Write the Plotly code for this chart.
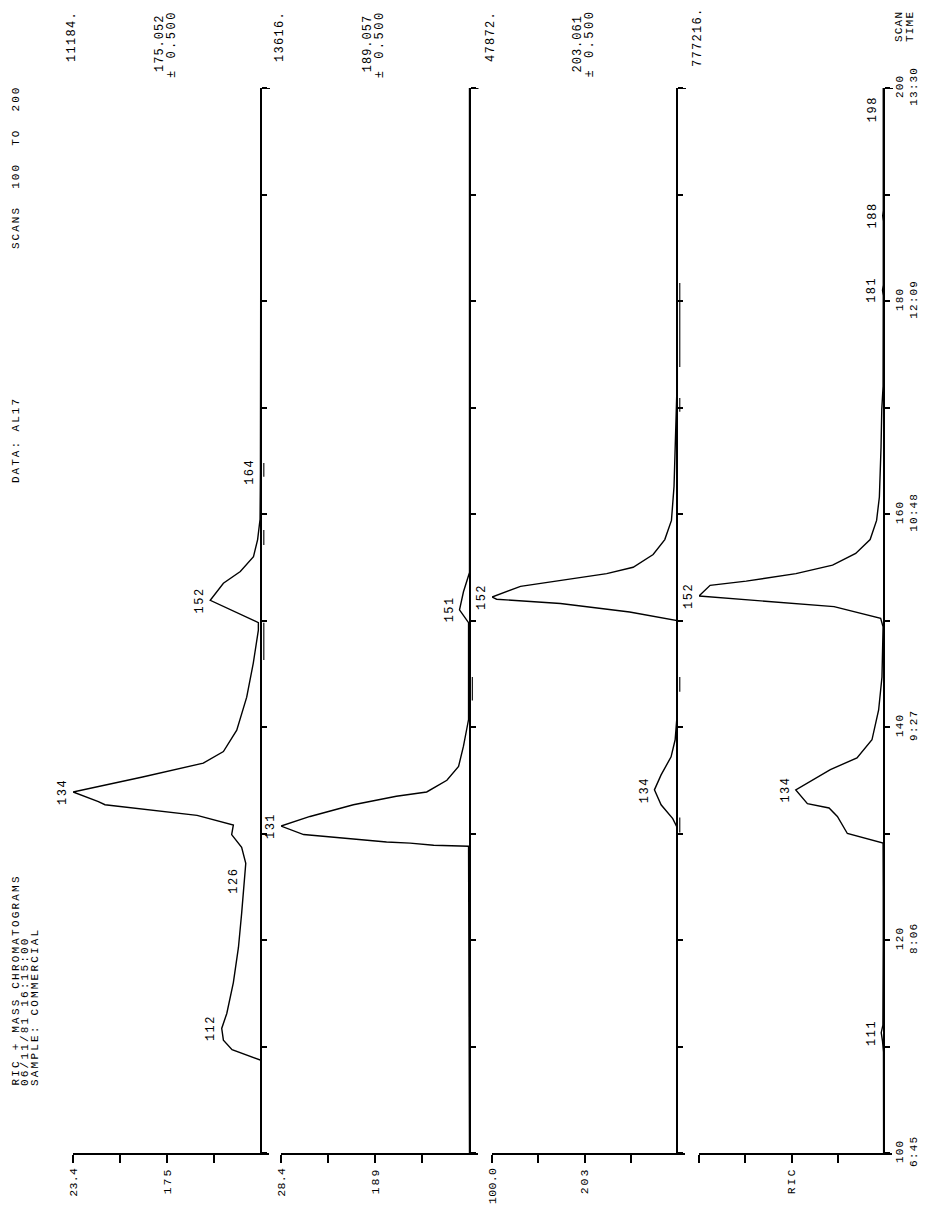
import numpy as np
import plotly.graph_objects as go

W, H = 927, 1209

# ---------------- data (scan number, relative intensity % of panel full scale) ----------------
p1_scan = [100, 108.7, 109.7, 110.6, 111.7, 113.1, 116, 119.3, 122.5, 125.6, 127.2, 128.7, 129.9,
           130.8, 131.7, 132.7, 133.0, 133.9, 135.3, 136.6, 137.7, 139.7, 142.8, 146, 149.1, 149.8,
           151.9, 153.5, 154.6, 156, 157.6, 159.5, 164, 200]
p1_int = [0, 0, 15.4, 20, 20.9, 18.2, 14.7, 12, 10.3, 8.9, 8.1, 10.3, 15.6,
          14.7, 34, 83, 86.5, 100, 63, 30.7, 20, 12.9, 7.6, 4.1, 1.4, 1.4,
          27, 20, 11, 4, 1.8, 0.5, 0.3, 0]

p2_scan = [100, 128.8, 128.9, 129.1, 129.2, 129.6, 129.9, 130.7, 131.6, 132.7, 133.5, 133.9, 135,
           136.3, 138.2, 140.7, 149.8, 151, 152.7, 154.5, 200]
p2_int = [0, 0.5, 19, 31.5, 44, 68.7, 88, 100, 84.6, 61.6, 38.8, 22.7, 12,
          5.8, 3.2, 0.5, 0.5, 5.3, 3.2, 0, 0]

p3_scan = [100, 130.6, 131.4, 132.7, 134.1, 135.5, 137.2, 138.8, 141, 150, 150.8, 151.6, 152,
           152.2, 153.2, 153.8, 154.4, 155, 156.2, 157.6, 159.4, 162.6, 165.7, 169.5, 172, 200]
p3_int = [0, 0, 2.3, 8.6, 12.2, 8.6, 3.2, 1, 0, 0, 25.6, 63, 97.5,
          100, 84.6, 61.4, 38, 23.7, 12.9, 6.6, 3, 1.6, 1, 0.5, 0, 0]

p4_scan = [100, 109.5, 110.5, 111.3, 112, 115, 120, 125, 129.1, 130, 131.6, 132.4, 132.8, 134.1,
           136, 137.1, 138.8, 141.6, 144.7, 149.4, 150.2, 151.3, 151.8, 152.3, 153.3, 153.7, 154.4,
           155.2, 156.3, 157.6, 159.4, 161.6, 166.3, 169.8, 172, 180.5, 181, 181.5, 187.5, 188,
           188.5, 197.5, 198, 198.5, 200]
p4_int = [0.2, 0.3, 0.8, 1.5, 0.6, 0.4, 0.4, 0.4, 0.5, 19.8, 25.2, 29.7, 41.4, 47.7,
          29, 14.6, 6.5, 2.9, 1.1, 0.5, 1.8, 27, 63, 100, 94, 74.5, 47.6,
          27.8, 15.3, 7.5, 4, 2.5, 1.6, 1.2, 0.5, 0.4, 0.8, 0.4, 0.4, 0.7,
          0.4, 0.4, 0.6, 0.4, 0.4]

# peak labels (scan numbers printed on the chart)
p1_peaks = [112, 126, 134, 152, 164]
p2_peaks = [131, 151]
p3_peaks = [134, 152]
p4_peaks = [111, 134, 152, 181, 188, 198]

# short marker strokes beside the baselines (scan start, scan end)
p1_marks = [(146.3, 149.8), (157.1, 158.5), (163.5, 164.8)]
p2_marks = [(142.5, 144.7)]
p3_marks = [(130.1, 131.5), (143.3, 144.7), (169.6, 170.9), (173.8, 181.7)]
p4_marks = []

# panel texts
full_scale_labels = ["23.4", "28.4", "100.0", ""]
mass_labels = ["175", "189", "203", "RIC"]
max_counts = ["11184.", "13616.", "47872.", "777216."]
mass_windows = ["175.052", "189.057", "203.061", None]
window_tol = "±\u00a00.500"

scan_ticks = [100, 110, 120, 130, 140, 150, 160, 170, 180, 190, 200]
scan_tick_lines = [("100", "6:45"), None, ("120", "8:06"), None, ("140", "9:27"), None,
                   ("160", "10:48"), None, ("180", "12:09"), None, ("200", "13:30")]

header_lines = ["RIC + MASS CHROMATOGRAMS", "06/11/81 16:15:00", "SAMPLE: COMMERCIAL"]
scans_text = "SCANS\u00a0\u00a0100\u00a0\u00a0TO\u00a0\u00a0200"
data_text = "DATA: AL17"

scans = [p1_scan, p2_scan, p3_scan, p4_scan]
ints = [p1_int, p2_int, p3_int, p4_int]
peaks = [p1_peaks, p2_peaks, p3_peaks, p4_peaks]
marks = [p1_marks, p2_marks, p3_marks, p4_marks]

# ---------------- layout geometry (pixels) ----------------
FULL_PX = [73, 281, 492, 699]       # full-scale side of each panel
BASE_PX = [261, 469.5, 677, 884]    # baseline side of each panel
EXT_PX = 8                          # axis line extension beyond the baseline
Y_BOTTOM_PX, Y_TOP_PX = 1153, 88
MARK_OFFSET = -1.5


def fx(p):
    return p / W


def fy(p):
    return 1 - p / H


FONT = dict(family="Liberation Mono, DejaVu Sans Mono, monospace", size=12, color="black")
HFONT = dict(FONT, size=11)


def ls(t, sp=1.8):
    return '<span style="letter-spacing:%.1fpx">%s</span>' % (sp, t)


fig = go.Figure()
layout = dict(width=W, height=H, margin=dict(l=0, r=0, t=0, b=0, autoexpand=False),
              paper_bgcolor="white", plot_bgcolor="white", showlegend=False)
annotations = []
shapes = []

for i in range(4):
    n = "" if i == 0 else str(i + 1)
    xa, ya = "x" + n, "y" + n
    fig.add_trace(go.Scatter(x=ints[i], y=scans[i], mode="lines",
                             line=dict(color="black", width=1.4),
                             xaxis=xa, yaxis=ya, hoverinfo="skip"))
    mx, my = [], []
    for a, b in marks[i]:
        mx += [MARK_OFFSET, MARK_OFFSET, None]
        my += [a, b, None]
    if mx:
        fig.add_trace(go.Scatter(x=mx, y=my, mode="lines", line=dict(color="black", width=1.1),
                                 xaxis=xa, yaxis=ya, hoverinfo="skip"))
    width = BASE_PX[i] - FULL_PX[i]
    xmin = -100 * EXT_PX / width
    layout["xaxis" + n] = dict(
        domain=[fx(FULL_PX[i]), fx(BASE_PX[i] + EXT_PX)], range=[100, xmin], anchor=ya,
        showgrid=False, zeroline=False, showline=True, linecolor="black", linewidth=2,
        ticks="outside", ticklen=8, tickwidth=2, tickcolor="black",
        tickvals=[100, 75, 50, 25],
        ticktext=[ls(full_scale_labels[i], 0.4), "", ls(mass_labels[i], 2.0), ""],
        tickangle=-90, tickfont=dict(FONT, size=11.5), fixedrange=True, automargin=False)
    ytext = []
    for t in scan_tick_lines:
        ytext.append(ls(t[0], 1.2) + "<br>" + ls(t[1], 1.2) if t else "")
    layout["yaxis" + n] = dict(
        domain=[fy(Y_BOTTOM_PX), fy(Y_TOP_PX)], range=[100, 200], anchor="free",
        position=fx(BASE_PX[i]), side="right", showline=True, linecolor="black", linewidth=2,
        ticks="outside", ticklen=5, tickwidth=2, tickcolor="black",
        tickvals=scan_ticks, ticktext=ytext, showticklabels=(i == 3),
        tickangle=-90, tickfont=HFONT, showgrid=False, zeroline=False,
        fixedrange=True, automargin=False)
    # top cap of the baseline
    shapes.append(dict(type="line", xref="paper", yref=ya, x0=fx(BASE_PX[i]),
                       x1=fx(BASE_PX[i] + 9), y0=200, y1=200,
                       line=dict(color="black", width=2)))
    # peak labels at local maxima
    s_arr = np.array(scans[i], dtype=float)
    v_arr = np.array(ints[i], dtype=float)
    for pk in peaks[i]:
        sel = np.where(np.abs(s_arr - pk) <= 1.5)[0]
        if len(sel):
            j = sel[np.argmax(v_arr[sel])]
            sx, sv = s_arr[j], v_arr[j]
        else:
            sx, sv = pk, float(np.interp(pk, s_arr, v_arr))
        annotations.append(dict(x=sv, y=sx, xref=xa, yref=ya, text=ls(str(pk), 1.5),
                                showarrow=False, textangle=-90, xanchor="right",
                                yanchor="middle", xshift=-1, font=FONT))
    # max counts at the top
    annotations.append(dict(x=fx(FULL_PX[i] - 1), y=fy(37), xref="paper", yref="paper",
                            text=ls(max_counts[i], 1.3), showarrow=False, textangle=-90,
                            xanchor="center", yanchor="middle", font=FONT))
    if mass_windows[i]:
        cx = (FULL_PX[i] + BASE_PX[i]) / 2
        annotations.append(dict(x=fx(cx - 7), y=fy(44), xref="paper", yref="paper",
                                text=ls(mass_windows[i], 1.0), showarrow=False, textangle=-90,
                                xanchor="center", yanchor="middle", font=FONT))
        annotations.append(dict(x=fx(cx + 5), y=fy(44), xref="paper", yref="paper",
                                text=ls(window_tol, 2.5), showarrow=False, textangle=-90,
                                xanchor="center", yanchor="middle", font=FONT))

# header texts
for k, line in enumerate(header_lines):
    annotations.append(dict(x=fx(15 + 10 * k), y=fy(1088), xref="paper", yref="paper",
                            text=ls(line, 2.2), showarrow=False, textangle=-90,
                            xanchor="center", yanchor="bottom", font=HFONT))
annotations.append(dict(x=fx(16), y=fy(168), xref="paper", yref="paper",
                        text=ls(scans_text, 2.0), showarrow=False, textangle=-90,
                        xanchor="center", yanchor="middle", font=HFONT))
annotations.append(dict(x=fx(16), y=fy(440), xref="paper", yref="paper",
                        text=ls(data_text, 2.0), showarrow=False, textangle=-90,
                        xanchor="center", yanchor="middle", font=HFONT))
annotations.append(dict(x=fx(899), y=fy(27), xref="paper", yref="paper", text=ls("SCAN", 1.2),
                        showarrow=False, textangle=-90, xanchor="center", yanchor="middle",
                        font=HFONT))
annotations.append(dict(x=fx(910), y=fy(27), xref="paper", yref="paper", text=ls("TIME", 1.2),
                        showarrow=False, textangle=-90, xanchor="center", yanchor="middle",
                        font=HFONT))

layout["annotations"] = annotations
layout["shapes"] = shapes
fig.update_layout(**layout)
fig.write_html("out.html")
